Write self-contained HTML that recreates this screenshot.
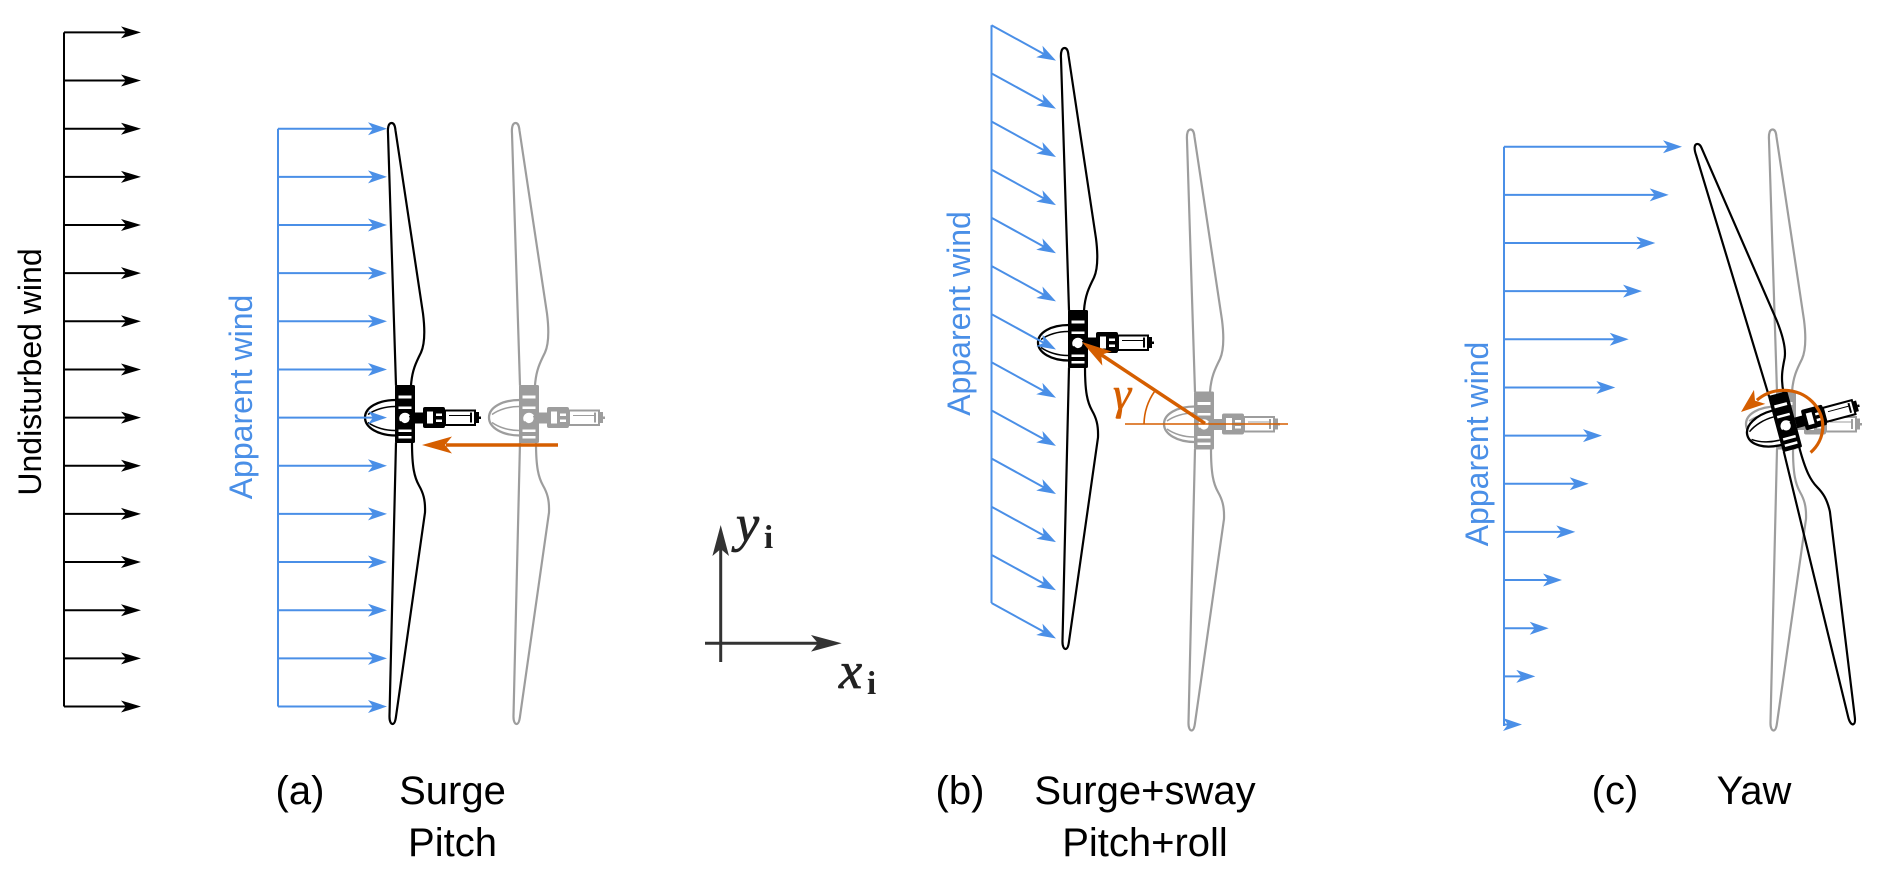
<!DOCTYPE html>
<html>
<head>
<meta charset="utf-8">
<style>
  html,body{margin:0;padding:0;background:#fff;}
  svg{display:block;}
  text{font-family:"Liberation Sans", Arial, sans-serif;}
  .m{font-family:"Liberation Serif", "Times New Roman", serif;}
</style>
</head>
<body>
<svg width="1892" height="878" viewBox="0 0 1892 878" xmlns="http://www.w3.org/2000/svg">
  <defs>
    <g id="turb">
      <g fill="none" stroke="currentColor" stroke-width="2.2" stroke-linejoin="round">
        <path d="M -9,-32 L -17,-284 C -17.5,-291 -16,-294.5 -13.5,-294.5 C -11,-294.5 -10,-292 -9.5,-287 L 18,-104 C 20,-88 20,-74 16,-65 C 11,-55 7,-47 6,-32"/>
        <path d="M -9,25 L -15.5,298 C -15.7,304 -14,306.5 -12.5,306.5 C -10.5,306.5 -9.5,303 -9,299 L 20,95 C 20.5,82 18,75 14,68 C 9.5,60 7,50 7,25"/>
      </g>
      <path d="M -9,-17.5 C -27,-17.5 -40,-10 -40,0 C -40,10 -27,18 -9,18" fill="#fff" stroke="currentColor" stroke-width="2.3"/>
      <path d="M -37,-3 C -30,-8 -20,-11 -10,-11 M -37,5 C -30,10 -20,13 -10,13" fill="none" stroke="currentColor" stroke-width="1.5"/>
      <rect x="-10" y="-32.5" width="20" height="58" rx="1.5" fill="currentColor"/>
      <rect x="-6.5" y="-22" width="13" height="3" fill="#fff"/>
      <rect x="-6.5" y="-11" width="13" height="2.5" fill="#fff"/>
      <rect x="-6.5" y="12" width="13" height="2.5" fill="#fff"/>
      <rect x="-6.5" y="18.5" width="13" height="2.5" fill="#fff"/>
      <circle cx="0" cy="1" r="6.5" fill="#fff" stroke="currentColor" stroke-width="1.5"/>
      <path d="M -5,4 A 5.5 5.5 0 0 0 5,-2" stroke="currentColor" stroke-width="2.5" fill="none"/>
      <rect x="10" y="-5" width="9" height="11" fill="currentColor"/>
      <rect x="18" y="-10.5" width="22" height="21" rx="2" fill="currentColor"/>
      <rect x="22" y="-6" width="6" height="12" fill="#fff"/>
      <rect x="31" y="-4" width="6" height="2.5" fill="#fff"/>
      <rect x="31" y="2" width="6" height="2.5" fill="#fff"/>
      <rect x="40" y="-7" width="30" height="14.5" fill="#fff" stroke="currentColor" stroke-width="2"/>
      <line x1="44" y1="-2" x2="65" y2="-2" stroke="currentColor" stroke-width="1"/>
      <rect x="65" y="-5" width="2" height="10" fill="currentColor"/>
      <rect x="70" y="-5.5" width="4" height="11" fill="currentColor"/>
      <rect x="74" y="-1" width="2" height="2.5" fill="currentColor"/>
    </g>
    <g id="karr">
      <path d="M0,0H72" stroke="#000" stroke-width="2"/>
      <path d="M77,0 L57,-6 L62,0 L57,6Z" fill="#000"/>
    </g>
    <g id="aarr">
      <path d="M0,0H95" stroke="#4a8fe7" stroke-width="2"/>
      <path d="M109,0 L90,-6.5 L95,0 L90,6.5Z" fill="#4a8fe7"/>
    </g>
    <g id="barr">
      <path d="M0,0H60" stroke="#4a8fe7" stroke-width="2"/>
      <path d="M73.6,0 L54.6,-6.5 L59.6,0 L54.6,6.5Z" fill="#4a8fe7"/>
    </g>
  </defs>

  <!-- Undisturbed wind -->
  <line x1="64" y1="32.4" x2="64" y2="706.5" stroke="#000" stroke-width="2"/>
  <use href="#karr" transform="translate(64,32.4)"/>
  <use href="#karr" transform="translate(64,80.55)"/>
  <use href="#karr" transform="translate(64,128.7)"/>
  <use href="#karr" transform="translate(64,176.85)"/>
  <use href="#karr" transform="translate(64,225)"/>
  <use href="#karr" transform="translate(64,273.15)"/>
  <use href="#karr" transform="translate(64,321.3)"/>
  <use href="#karr" transform="translate(64,369.45)"/>
  <use href="#karr" transform="translate(64,417.6)"/>
  <use href="#karr" transform="translate(64,465.75)"/>
  <use href="#karr" transform="translate(64,513.9)"/>
  <use href="#karr" transform="translate(64,562.05)"/>
  <use href="#karr" transform="translate(64,610.2)"/>
  <use href="#karr" transform="translate(64,658.35)"/>
  <use href="#karr" transform="translate(64,706.5)"/>
  <text transform="translate(41,372) rotate(-90)" text-anchor="middle" font-size="32" fill="#000">Undisturbed wind</text>

  <!-- Grey turbines -->
  <use href="#turb" color="#9d9d9d" transform="translate(529,417.5)"/>
  <use href="#turb" color="#9d9d9d" transform="translate(1204,424)"/>
  <use href="#turb" color="#9d9d9d" transform="translate(1786,424)"/>

  <!-- Black turbines -->
  <use href="#turb" color="#000" transform="translate(405,417.5)"/>
  <use href="#turb" color="#000" transform="translate(1078,342.5)"/>
  <use href="#turb" color="#000" transform="translate(1786,425) rotate(-15)"/>

  <!-- (a) Apparent wind -->
  <line x1="278" y1="128.7" x2="278" y2="706.5" stroke="#4a8fe7" stroke-width="2"/>
  <use href="#aarr" transform="translate(278,128.7)"/>
  <use href="#aarr" transform="translate(278,176.85)"/>
  <use href="#aarr" transform="translate(278,225)"/>
  <use href="#aarr" transform="translate(278,273.15)"/>
  <use href="#aarr" transform="translate(278,321.3)"/>
  <use href="#aarr" transform="translate(278,369.45)"/>
  <use href="#aarr" transform="translate(278,417.6)"/>
  <use href="#aarr" transform="translate(278,465.75)"/>
  <use href="#aarr" transform="translate(278,513.9)"/>
  <use href="#aarr" transform="translate(278,562.05)"/>
  <use href="#aarr" transform="translate(278,610.2)"/>
  <use href="#aarr" transform="translate(278,658.35)"/>
  <use href="#aarr" transform="translate(278,706.5)"/>
  <text transform="translate(252,397) rotate(-90)" text-anchor="middle" font-size="32" fill="#4a8fe7">Apparent wind</text>

  <!-- (a) orange arrow -->
  <line x1="558" y1="445" x2="446" y2="445" stroke="#d55e00" stroke-width="3.5"/>
  <path d="M422,445 L452,436.5 L445,445 L452,453.5Z" fill="#d55e00"/>

  <!-- (b) Apparent wind -->
  <line x1="991.5" y1="25.2" x2="991.5" y2="603" stroke="#4a8fe7" stroke-width="2"/>
  <use href="#barr" transform="translate(991.5,25.2) rotate(28.8)"/>
  <use href="#barr" transform="translate(991.5,73.35) rotate(28.8)"/>
  <use href="#barr" transform="translate(991.5,121.5) rotate(28.8)"/>
  <use href="#barr" transform="translate(991.5,169.65) rotate(28.8)"/>
  <use href="#barr" transform="translate(991.5,217.8) rotate(28.8)"/>
  <use href="#barr" transform="translate(991.5,265.95) rotate(28.8)"/>
  <use href="#barr" transform="translate(991.5,314.1) rotate(28.8)"/>
  <use href="#barr" transform="translate(991.5,362.25) rotate(28.8)"/>
  <use href="#barr" transform="translate(991.5,410.4) rotate(28.8)"/>
  <use href="#barr" transform="translate(991.5,458.55) rotate(28.8)"/>
  <use href="#barr" transform="translate(991.5,506.7) rotate(28.8)"/>
  <use href="#barr" transform="translate(991.5,554.85) rotate(28.8)"/>
  <use href="#barr" transform="translate(991.5,603) rotate(28.8)"/>
  <text transform="translate(970,313.5) rotate(-90)" text-anchor="middle" font-size="32" fill="#4a8fe7">Apparent wind</text>

  <!-- (b) orange -->
  <line x1="1125" y1="424" x2="1288" y2="424" stroke="#d55e00" stroke-width="1.6"/>
  <path d="M1144,424 A59,59 0 0 1 1154.5,391.5" fill="none" stroke="#d55e00" stroke-width="1.6"/>
  <g transform="translate(1082,342) rotate(213.5)">
    <line x1="-22" y1="0" x2="-147.5" y2="0" stroke="#d55e00" stroke-width="3.5"/>
    <path d="M0,0 L-30,-8.5 L-23,0 L-30,8.5Z" fill="#d55e00"/>
  </g>
  <text class="m" x="1113" y="409" font-size="46" font-style="italic" fill="#d55e00" stroke="#d55e00" stroke-width="0.6">γ</text>

  <!-- (c) Apparent wind -->
  <g stroke="#4a8fe7" stroke-width="2" fill="none">
    <line x1="1504" y1="146.7" x2="1504" y2="726" />
    <path d="M1504,146.7 H1668"/>
    <path d="M1504,194.85 H1654.7"/>
    <path d="M1504,243 H1641.3"/>
    <path d="M1504,291.15 H1628"/>
    <path d="M1504,339.3 H1614.7"/>
    <path d="M1504,387.45 H1601.3"/>
    <path d="M1504,435.6 H1588"/>
    <path d="M1504,483.75 H1574.7"/>
    <path d="M1504,531.9 H1561.3"/>
    <path d="M1504,580.05 H1548"/>
    <path d="M1504,628.2 H1534.7"/>
    <path d="M1504,676.35 H1521.3"/>
    <path d="M1504,724.5 H1508"/>
  </g>
  <g fill="#4a8fe7">
    <path d="M1682,146.7 l-19,-6.5 l5,6.5 l-5,6.5z"/>
    <path d="M1668.7,194.85 l-19,-6.5 l5,6.5 l-5,6.5z"/>
    <path d="M1655.3,243 l-19,-6.5 l5,6.5 l-5,6.5z"/>
    <path d="M1642,291.15 l-19,-6.5 l5,6.5 l-5,6.5z"/>
    <path d="M1628.7,339.3 l-19,-6.5 l5,6.5 l-5,6.5z"/>
    <path d="M1615.3,387.45 l-19,-6.5 l5,6.5 l-5,6.5z"/>
    <path d="M1602,435.6 l-19,-6.5 l5,6.5 l-5,6.5z"/>
    <path d="M1588.7,483.75 l-19,-6.5 l5,6.5 l-5,6.5z"/>
    <path d="M1575.3,531.9 l-19,-6.5 l5,6.5 l-5,6.5z"/>
    <path d="M1562,580.05 l-19,-6.5 l5,6.5 l-5,6.5z"/>
    <path d="M1548.7,628.2 l-19,-6.5 l5,6.5 l-5,6.5z"/>
    <path d="M1535.3,676.35 l-19,-6.5 l5,6.5 l-5,6.5z"/>
    <path d="M1522,724.5 l-19,-6.5 l5,6.5 l-5,6.5z"/>
  </g>
  <text transform="translate(1488,444) rotate(-90)" text-anchor="middle" font-size="32" fill="#4a8fe7">Apparent wind</text>

  <!-- (c) orange yaw arc -->
  <path d="M1810.6,452.5 A39,36 0 1 0 1756.9,400.2" fill="none" stroke="#d55e00" stroke-width="3.2"/>
  <g transform="translate(1741,412) rotate(141)">
    <path d="M0,0 L-24,-9 L-18,0 L-24,9Z" fill="#d55e00"/>
  </g>

  <!-- Axes -->
  <line x1="720.7" y1="662" x2="720.7" y2="549" stroke="#333" stroke-width="3"/>
  <path d="M720.7,525 L712.4,556 L720.7,549 L729,556Z" fill="#333"/>
  <line x1="705" y1="643.3" x2="818" y2="643.3" stroke="#333" stroke-width="3"/>
  <path d="M841.7,643.3 L811,635 L818,643.3 L811,651.6Z" fill="#333"/>
  <text class="m" x="736" y="541" font-size="52" font-style="italic" fill="#222" stroke="#222" stroke-width="0.8">y</text>
  <text class="m" x="764" y="548" font-size="33" font-weight="bold" fill="#222">i</text>
  <text class="m" x="839" y="688" font-size="52" font-style="italic" fill="#222" stroke="#222" stroke-width="0.8">x</text>
  <text class="m" x="867" y="694" font-size="33" font-weight="bold" fill="#222">i</text>

  <!-- Labels -->
  <g font-size="40" fill="#000" text-anchor="middle">
    <text x="300" y="804">(a)</text>
    <text x="452.5" y="804">Surge</text>
    <text x="452.5" y="856">Pitch</text>
    <text x="960" y="804">(b)</text>
    <text x="1145" y="804">Surge+sway</text>
    <text x="1145" y="856">Pitch+roll</text>
    <text x="1615" y="804">(c)</text>
    <text x="1754" y="804">Yaw</text>
  </g>
</svg>
</body>
</html>
